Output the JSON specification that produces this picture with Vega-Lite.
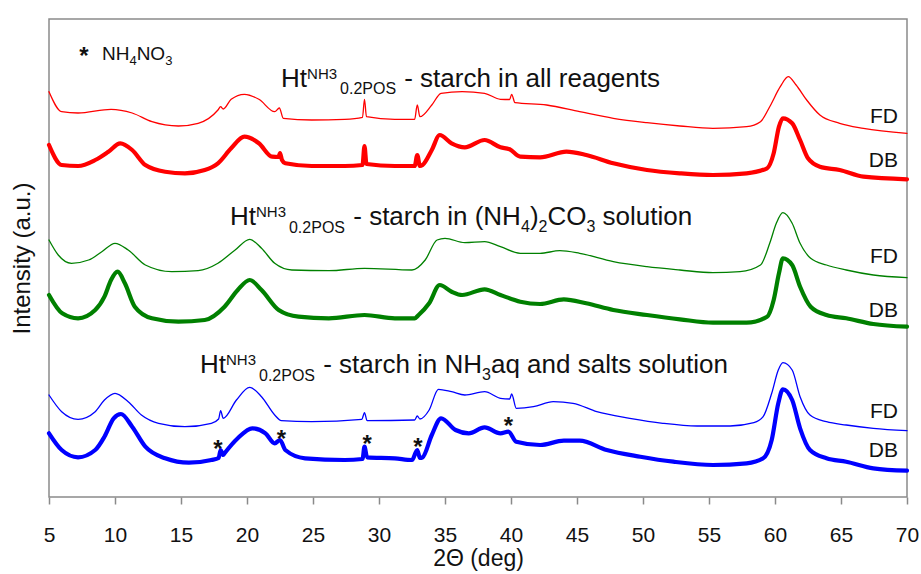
{
  "$schema": "https://vega.github.io/schema/vega-lite/v6.json",
  "width": 858,
  "height": 478,
  "autosize": "none",
  "padding": {"left": 49, "top": 19, "right": 14, "bottom": 77},
  "background": "white",
  "config": {
    "font": "Liberation Sans",
    "view": {"stroke": "#8a8a8a", "strokeWidth": 1.5},
    "axis": {"grid": false, "domain": false, "titleFontWeight": "normal", "titleColor": "#111", "labelColor": "#111", "titleFont": "Liberation Sans", "labelFont": "Liberation Sans"}
  },
  "datasets": {
    "curves": [
      {"s":"all","f":"FD","x":5,"y":405.3},{"s":"all","f":"FD","x":5.96,"y":385.3},{"s":"all","f":"FD","x":7.2,"y":384},{"s":"all","f":"FD","x":9.7,"y":387.7},{"s":"all","f":"FD","x":11.3,"y":384},{"s":"all","f":"FD","x":12.8,"y":375.3},{"s":"all","f":"FD","x":14.8,"y":371},{"s":"all","f":"FD","x":16.3,"y":373.7},{"s":"all","f":"FD","x":17.8,"y":387},{"s":"all","f":"FD","x":18.0,"y":390.3},{"s":"all","f":"FD","x":18.2,"y":388},{"s":"all","f":"FD","x":18.8,"y":397.7},{"s":"all","f":"FD","x":19.8,"y":402.7},{"s":"all","f":"FD","x":20.9,"y":397.7},{"s":"all","f":"FD","x":22.1,"y":385.3},{"s":"all","f":"FD","x":22.45,"y":389},{"s":"all","f":"FD","x":22.75,"y":378.7},{"s":"all","f":"FD","x":24.9,"y":377},{"s":"all","f":"FD","x":27.4,"y":377.7},{"s":"all","f":"FD","x":28.75,"y":379.7},{"s":"all","f":"FD","x":28.9,"y":397.7},{"s":"all","f":"FD","x":29.05,"y":380.3},{"s":"all","f":"FD","x":31.2,"y":377.7},{"s":"all","f":"FD","x":32.7,"y":377.7},{"s":"all","f":"FD","x":32.9,"y":392},{"s":"all","f":"FD","x":33.1,"y":380.3},{"s":"all","f":"FD","x":34.0,"y":392},{"s":"all","f":"FD","x":34.7,"y":403.7},{"s":"all","f":"FD","x":36.3,"y":405.3},{"s":"all","f":"FD","x":38.0,"y":403.7},{"s":"all","f":"FD","x":39.2,"y":397.7},{"s":"all","f":"FD","x":39.9,"y":397.5},{"s":"all","f":"FD","x":40.05,"y":402.7},{"s":"all","f":"FD","x":40.3,"y":394.3},{"s":"all","f":"FD","x":42.7,"y":392},{"s":"all","f":"FD","x":45.2,"y":385.3},{"s":"all","f":"FD","x":47.75,"y":378.7},{"s":"all","f":"FD","x":50.3,"y":374.3},{"s":"all","f":"FD","x":52.8,"y":371},{"s":"all","f":"FD","x":55.3,"y":368.7},{"s":"all","f":"FD","x":57.85,"y":370.3},{"s":"all","f":"FD","x":58.9,"y":375.3},{"s":"all","f":"FD","x":59.6,"y":390.3},{"s":"all","f":"FD","x":60.4,"y":410.3},{"s":"all","f":"FD","x":61.0,"y":420.3},{"s":"all","f":"FD","x":61.6,"y":412},{"s":"all","f":"FD","x":62.4,"y":397},{"s":"all","f":"FD","x":63.4,"y":382},{"s":"all","f":"FD","x":64.9,"y":373.7},{"s":"all","f":"FD","x":66.7,"y":368.7},{"s":"all","f":"FD","x":70,"y":363.7},

      {"s":"all","f":"DB","x":5,"y":352},{"s":"all","f":"DB","x":5.96,"y":332},{"s":"all","f":"DB","x":7.2,"y":331},{"s":"all","f":"DB","x":8.5,"y":337},{"s":"all","f":"DB","x":9.5,"y":345.3},{"s":"all","f":"DB","x":10.4,"y":353.7},{"s":"all","f":"DB","x":11.3,"y":347},{"s":"all","f":"DB","x":12.3,"y":332},{"s":"all","f":"DB","x":13.8,"y":325.3},{"s":"all","f":"DB","x":15.3,"y":323.7},{"s":"all","f":"DB","x":16.8,"y":327},{"s":"all","f":"DB","x":17.8,"y":333.7},{"s":"all","f":"DB","x":18.8,"y":348.7},{"s":"all","f":"DB","x":19.8,"y":360.3},{"s":"all","f":"DB","x":20.9,"y":353.7},{"s":"all","f":"DB","x":21.9,"y":340.3},{"s":"all","f":"DB","x":22.4,"y":340},{"s":"all","f":"DB","x":22.5,"y":344},{"s":"all","f":"DB","x":22.65,"y":337},{"s":"all","f":"DB","x":22.9,"y":333.7},{"s":"all","f":"DB","x":24.9,"y":331},{"s":"all","f":"DB","x":27.4,"y":331},{"s":"all","f":"DB","x":28.75,"y":332},{"s":"all","f":"DB","x":28.9,"y":351},{"s":"all","f":"DB","x":29.05,"y":333},{"s":"all","f":"DB","x":31.2,"y":331},{"s":"all","f":"DB","x":32.7,"y":331},{"s":"all","f":"DB","x":32.9,"y":342},{"s":"all","f":"DB","x":33.1,"y":331},{"s":"all","f":"DB","x":33.3,"y":332},{"s":"all","f":"DB","x":34.0,"y":347},{"s":"all","f":"DB","x":34.6,"y":362},{"s":"all","f":"DB","x":35.5,"y":353.7},{"s":"all","f":"DB","x":36.5,"y":349.7},{"s":"all","f":"DB","x":38.0,"y":357},{"s":"all","f":"DB","x":39.2,"y":349.7},{"s":"all","f":"DB","x":39.9,"y":347.7},{"s":"all","f":"DB","x":40.7,"y":340.3},{"s":"all","f":"DB","x":42.2,"y":339.7},{"s":"all","f":"DB","x":44.2,"y":345.3},{"s":"all","f":"DB","x":45.7,"y":342},{"s":"all","f":"DB","x":47.75,"y":333.7},{"s":"all","f":"DB","x":50.3,"y":327},{"s":"all","f":"DB","x":52.8,"y":323.7},{"s":"all","f":"DB","x":55.3,"y":322},{"s":"all","f":"DB","x":57.85,"y":323.7},{"s":"all","f":"DB","x":59.4,"y":328.7},{"s":"all","f":"DB","x":59.9,"y":343.7},{"s":"all","f":"DB","x":60.3,"y":370.3},{"s":"all","f":"DB","x":60.6,"y":378.7},{"s":"all","f":"DB","x":61.3,"y":373.7},{"s":"all","f":"DB","x":61.9,"y":357},{"s":"all","f":"DB","x":62.5,"y":338.7},{"s":"all","f":"DB","x":63.4,"y":330.3},{"s":"all","f":"DB","x":64.9,"y":327},{"s":"all","f":"DB","x":66.7,"y":320.3},{"s":"all","f":"DB","x":70,"y":317.7},

      {"s":"carb","f":"FD","x":5,"y":257},{"s":"carb","f":"FD","x":5.7,"y":242},{"s":"carb","f":"FD","x":6.7,"y":233.7},{"s":"carb","f":"FD","x":8.0,"y":237},{"s":"carb","f":"FD","x":9.0,"y":245.3},{"s":"carb","f":"FD","x":10.0,"y":253.7},{"s":"carb","f":"FD","x":11.0,"y":247},{"s":"carb","f":"FD","x":12.3,"y":232},{"s":"carb","f":"FD","x":14.3,"y":225.3},{"s":"carb","f":"FD","x":16.3,"y":226.3},{"s":"carb","f":"FD","x":17.8,"y":233.7},{"s":"carb","f":"FD","x":19.1,"y":247},{"s":"carb","f":"FD","x":20.2,"y":257.7},{"s":"carb","f":"FD","x":21.1,"y":248.7},{"s":"carb","f":"FD","x":22.1,"y":233.7},{"s":"carb","f":"FD","x":23.4,"y":227},{"s":"carb","f":"FD","x":26.2,"y":226.3},{"s":"carb","f":"FD","x":28.9,"y":228.7},{"s":"carb","f":"FD","x":32.5,"y":227},{"s":"carb","f":"FD","x":33.5,"y":237},{"s":"carb","f":"FD","x":34.4,"y":257},{"s":"carb","f":"FD","x":35.0,"y":258.7},{"s":"carb","f":"FD","x":36.5,"y":254.3},{"s":"carb","f":"FD","x":38.0,"y":255.3},{"s":"carb","f":"FD","x":39.2,"y":250.3},{"s":"carb","f":"FD","x":40.7,"y":243.7},{"s":"carb","f":"FD","x":42.2,"y":243.7},{"s":"carb","f":"FD","x":43.7,"y":246.3},{"s":"carb","f":"FD","x":45.2,"y":243.7},{"s":"carb","f":"FD","x":47.75,"y":235.3},{"s":"carb","f":"FD","x":50.3,"y":230.3},{"s":"carb","f":"FD","x":52.8,"y":227},{"s":"carb","f":"FD","x":55.3,"y":224.3},{"s":"carb","f":"FD","x":57.35,"y":225.3},{"s":"carb","f":"FD","x":58.9,"y":232},{"s":"carb","f":"FD","x":59.6,"y":253.7},{"s":"carb","f":"FD","x":60.1,"y":273.7},{"s":"carb","f":"FD","x":60.6,"y":284.3},{"s":"carb","f":"FD","x":61.3,"y":273.7},{"s":"carb","f":"FD","x":61.9,"y":253.7},{"s":"carb","f":"FD","x":62.7,"y":238.7},{"s":"carb","f":"FD","x":63.9,"y":232},{"s":"carb","f":"FD","x":65.4,"y":227},{"s":"carb","f":"FD","x":67.45,"y":222},{"s":"carb","f":"FD","x":70,"y":219.3},

      {"s":"carb","f":"DB","x":5,"y":202},{"s":"carb","f":"DB","x":6.0,"y":183.7},{"s":"carb","f":"DB","x":7.2,"y":178.7},{"s":"carb","f":"DB","x":8.5,"y":187},{"s":"carb","f":"DB","x":9.2,"y":200.3},{"s":"carb","f":"DB","x":9.7,"y":217},{"s":"carb","f":"DB","x":10.2,"y":225.3},{"s":"carb","f":"DB","x":10.75,"y":213.7},{"s":"carb","f":"DB","x":11.5,"y":190.3},{"s":"carb","f":"DB","x":12.8,"y":178.7},{"s":"carb","f":"DB","x":14.8,"y":175.3},{"s":"carb","f":"DB","x":16.8,"y":177},{"s":"carb","f":"DB","x":18.3,"y":190.3},{"s":"carb","f":"DB","x":19.3,"y":207},{"s":"carb","f":"DB","x":20.2,"y":217},{"s":"carb","f":"DB","x":21.1,"y":207},{"s":"carb","f":"DB","x":22.4,"y":187},{"s":"carb","f":"DB","x":23.9,"y":180.3},{"s":"carb","f":"DB","x":26.2,"y":178.7},{"s":"carb","f":"DB","x":28.9,"y":182},{"s":"carb","f":"DB","x":31.2,"y":178.7},{"s":"carb","f":"DB","x":32.7,"y":178.7},{"s":"carb","f":"DB","x":33.0,"y":182},{"s":"carb","f":"DB","x":33.8,"y":193.7},{"s":"carb","f":"DB","x":34.6,"y":212},{"s":"carb","f":"DB","x":35.5,"y":205.3},{"s":"carb","f":"DB","x":36.3,"y":202},{"s":"carb","f":"DB","x":38.0,"y":207.7},{"s":"carb","f":"DB","x":39.2,"y":202},{"s":"carb","f":"DB","x":40.7,"y":195.3},{"s":"carb","f":"DB","x":42.2,"y":193},{"s":"carb","f":"DB","x":44.0,"y":197.7},{"s":"carb","f":"DB","x":45.7,"y":193.7},{"s":"carb","f":"DB","x":47.75,"y":187},{"s":"carb","f":"DB","x":50.3,"y":182},{"s":"carb","f":"DB","x":52.8,"y":177.7},{"s":"carb","f":"DB","x":55.3,"y":174.3},{"s":"carb","f":"DB","x":57.85,"y":174.3},{"s":"carb","f":"DB","x":59.4,"y":180.3},{"s":"carb","f":"DB","x":59.9,"y":197},{"s":"carb","f":"DB","x":60.3,"y":223.7},{"s":"carb","f":"DB","x":60.6,"y":238.7},{"s":"carb","f":"DB","x":61.3,"y":232},{"s":"carb","f":"DB","x":61.9,"y":210.3},{"s":"carb","f":"DB","x":62.7,"y":190.3},{"s":"carb","f":"DB","x":63.9,"y":182},{"s":"carb","f":"DB","x":65.4,"y":178.7},{"s":"carb","f":"DB","x":67.45,"y":173},{"s":"carb","f":"DB","x":70,"y":170.3},

      {"s":"nh3","f":"FD","x":5,"y":102},{"s":"nh3","f":"FD","x":5.96,"y":85.3},{"s":"nh3","f":"FD","x":7.2,"y":77.7},{"s":"nh3","f":"FD","x":8.5,"y":85.3},{"s":"nh3","f":"FD","x":9.2,"y":97},{"s":"nh3","f":"FD","x":10.0,"y":103.7},{"s":"nh3","f":"FD","x":11.0,"y":95.3},{"s":"nh3","f":"FD","x":12.0,"y":82},{"s":"nh3","f":"FD","x":13.3,"y":73.7},{"s":"nh3","f":"FD","x":15.3,"y":70.3},{"s":"nh3","f":"FD","x":17.3,"y":73.7},{"s":"nh3","f":"FD","x":17.85,"y":78},{"s":"nh3","f":"FD","x":18.0,"y":86.3},{"s":"nh3","f":"FD","x":18.2,"y":78.7},{"s":"nh3","f":"FD","x":19.2,"y":97},{"s":"nh3","f":"FD","x":20.2,"y":109.7},{"s":"nh3","f":"FD","x":21.1,"y":100.3},{"s":"nh3","f":"FD","x":22.1,"y":82},{"s":"nh3","f":"FD","x":22.6,"y":76.3},{"s":"nh3","f":"FD","x":24.9,"y":75.3},{"s":"nh3","f":"FD","x":28.7,"y":77.7},{"s":"nh3","f":"FD","x":28.9,"y":84.3},{"s":"nh3","f":"FD","x":29.1,"y":76.3},{"s":"nh3","f":"FD","x":32.7,"y":77},{"s":"nh3","f":"FD","x":32.9,"y":81},{"s":"nh3","f":"FD","x":33.1,"y":78},{"s":"nh3","f":"FD","x":33.8,"y":87},{"s":"nh3","f":"FD","x":34.5,"y":107.7},{"s":"nh3","f":"FD","x":35.5,"y":105.3},{"s":"nh3","f":"FD","x":36.5,"y":102},{"s":"nh3","f":"FD","x":38.0,"y":105.3},{"s":"nh3","f":"FD","x":39.2,"y":98.7},{"s":"nh3","f":"FD","x":39.9,"y":98},{"s":"nh3","f":"FD","x":40.05,"y":103},{"s":"nh3","f":"FD","x":40.4,"y":88.7},{"s":"nh3","f":"FD","x":41.7,"y":90.3},{"s":"nh3","f":"FD","x":43.2,"y":95.3},{"s":"nh3","f":"FD","x":44.7,"y":93.7},{"s":"nh3","f":"FD","x":46.5,"y":85.3},{"s":"nh3","f":"FD","x":49.0,"y":78.7},{"s":"nh3","f":"FD","x":51.5,"y":73.7},{"s":"nh3","f":"FD","x":54.1,"y":71},{"s":"nh3","f":"FD","x":56.6,"y":71},{"s":"nh3","f":"FD","x":58.4,"y":74.3},{"s":"nh3","f":"FD","x":59.1,"y":80.3},{"s":"nh3","f":"FD","x":59.75,"y":103.7},{"s":"nh3","f":"FD","x":60.25,"y":127},{"s":"nh3","f":"FD","x":60.6,"y":134.3},{"s":"nh3","f":"FD","x":61.3,"y":127},{"s":"nh3","f":"FD","x":61.9,"y":100.3},{"s":"nh3","f":"FD","x":62.65,"y":82},{"s":"nh3","f":"FD","x":63.9,"y":75.3},{"s":"nh3","f":"FD","x":65.4,"y":72},{"s":"nh3","f":"FD","x":67.45,"y":68.7},{"s":"nh3","f":"FD","x":70,"y":66.3},

      {"s":"nh3","f":"DB","x":5,"y":63.7},{"s":"nh3","f":"DB","x":5.96,"y":47},{"s":"nh3","f":"DB","x":7.2,"y":39.7},{"s":"nh3","f":"DB","x":8.5,"y":47},{"s":"nh3","f":"DB","x":9.2,"y":60.3},{"s":"nh3","f":"DB","x":9.9,"y":78.7},{"s":"nh3","f":"DB","x":10.45,"y":83},{"s":"nh3","f":"DB","x":11.3,"y":70.3},{"s":"nh3","f":"DB","x":12.3,"y":50.3},{"s":"nh3","f":"DB","x":13.8,"y":38.7},{"s":"nh3","f":"DB","x":15.6,"y":34.3},{"s":"nh3","f":"DB","x":17.3,"y":37},{"s":"nh3","f":"DB","x":17.85,"y":39},{"s":"nh3","f":"DB","x":18.0,"y":47},{"s":"nh3","f":"DB","x":18.2,"y":42},{"s":"nh3","f":"DB","x":18.3,"y":43.7},{"s":"nh3","f":"DB","x":19.3,"y":58.7},{"s":"nh3","f":"DB","x":20.4,"y":68.7},{"s":"nh3","f":"DB","x":21.4,"y":63.7},{"s":"nh3","f":"DB","x":22.1,"y":53.7},{"s":"nh3","f":"DB","x":22.5,"y":57},{"s":"nh3","f":"DB","x":22.9,"y":47},{"s":"nh3","f":"DB","x":24.4,"y":38.7},{"s":"nh3","f":"DB","x":27.4,"y":37},{"s":"nh3","f":"DB","x":28.75,"y":38},{"s":"nh3","f":"DB","x":28.9,"y":50.3},{"s":"nh3","f":"DB","x":29.1,"y":39.7},{"s":"nh3","f":"DB","x":31.2,"y":38.7},{"s":"nh3","f":"DB","x":32.5,"y":37},{"s":"nh3","f":"DB","x":32.9,"y":47},{"s":"nh3","f":"DB","x":33.1,"y":39},{"s":"nh3","f":"DB","x":33.3,"y":39.7},{"s":"nh3","f":"DB","x":34.0,"y":62},{"s":"nh3","f":"DB","x":34.7,"y":78.7},{"s":"nh3","f":"DB","x":35.8,"y":67},{"s":"nh3","f":"DB","x":36.8,"y":63.7},{"s":"nh3","f":"DB","x":38.0,"y":69.7},{"s":"nh3","f":"DB","x":39.2,"y":63.7},{"s":"nh3","f":"DB","x":39.8,"y":65.3},{"s":"nh3","f":"DB","x":40.4,"y":55.3},{"s":"nh3","f":"DB","x":42.2,"y":52},{"s":"nh3","f":"DB","x":44.0,"y":56.3},{"s":"nh3","f":"DB","x":45.2,"y":56.3},{"s":"nh3","f":"DB","x":47.25,"y":47},{"s":"nh3","f":"DB","x":49.8,"y":40.3},{"s":"nh3","f":"DB","x":52.3,"y":35.3},{"s":"nh3","f":"DB","x":55.3,"y":32},{"s":"nh3","f":"DB","x":57.85,"y":33.7},{"s":"nh3","f":"DB","x":59.1,"y":38.7},{"s":"nh3","f":"DB","x":59.75,"y":57},{"s":"nh3","f":"DB","x":60.25,"y":93.7},{"s":"nh3","f":"DB","x":60.6,"y":107.7},{"s":"nh3","f":"DB","x":61.3,"y":97},{"s":"nh3","f":"DB","x":61.9,"y":68.7},{"s":"nh3","f":"DB","x":62.65,"y":47},{"s":"nh3","f":"DB","x":63.9,"y":38.7},{"s":"nh3","f":"DB","x":65.4,"y":35.3},{"s":"nh3","f":"DB","x":67.45,"y":28.7},{"s":"nh3","f":"DB","x":70,"y":26.3}
    ],
    "notes": [
      {"k":"main","x":22.58,"y":410,"t":"Ht"},
      {"k":"main","x":31.91,"y":410,"t":"- starch in all reagents"},
      {"k":"sup","x":24.55,"y":418,"t":"NH3"},
      {"k":"sub","x":27.05,"y":403,"t":"0.2POS"},

      {"k":"main","x":18.71,"y":272,"t":"Ht"},
      {"k":"sup","x":20.68,"y":280,"t":"NH3"},
      {"k":"sub","x":23.18,"y":264,"t":"0.2POS"},
      {"k":"main","x":28.05,"y":272,"t":"- starch in (NH"},
      {"k":"sub","x":40.76,"y":265,"t":"4"},
      {"k":"main","x":41.44,"y":272,"t":")"},
      {"k":"sub","x":42.09,"y":265,"t":"2"},
      {"k":"main","x":42.77,"y":272,"t":"CO"},
      {"k":"sub","x":45.72,"y":265,"t":"3"},
      {"k":"main","x":46.94,"y":272,"t":"solution"},

      {"k":"main","x":16.44,"y":124,"t":"Ht"},
      {"k":"sup","x":18.41,"y":132,"t":"NH3"},
      {"k":"sub","x":20.91,"y":116,"t":"0.2POS"},
      {"k":"main","x":25.77,"y":124,"t":"- starch in NH"},
      {"k":"sub","x":37.8,"y":117,"t":"3"},
      {"k":"main","x":38.48,"y":124,"t":"aq and salts solution"},

      {"k":"leg","x":9.02,"y":437,"t":"NH"},
      {"k":"legsub","x":11.09,"y":432,"t":"4"},
      {"k":"leg","x":11.64,"y":437,"t":"NO"},
      {"k":"legsub","x":13.8,"y":432,"t":"3"},

      {"k":"star","x":7.65,"y":433,"t":"*"},
      {"k":"star","x":17.8,"y":40.3,"t":"*"},
      {"k":"star","x":22.6,"y":50.3,"t":"*"},
      {"k":"star","x":29.1,"y":45.3,"t":"*"},
      {"k":"star","x":32.95,"y":42.3,"t":"*"},
      {"k":"star","x":39.8,"y":63.3,"t":"*"},

      {"k":"tag","x":69.32,"y":374.3,"t":"FD"},
      {"k":"tag","x":69.32,"y":330,"t":"DB"},
      {"k":"tag","x":69.32,"y":234,"t":"FD"},
      {"k":"tag","x":69.32,"y":180,"t":"DB"},
      {"k":"tag","x":69.32,"y":79,"t":"FD"},
      {"k":"tag","x":69.32,"y":40,"t":"DB"}
    ]
  },
  "encoding": {
    "x": {
      "field": "x", "type": "quantitative",
      "scale": {"domain": [5, 70], "nice": false, "zero": false},
      "axis": {"values": [5,10,15,20,25,30,35,40,45,50,55,60,65,70], "title": "2Θ (deg)", "tickSize": 7, "tickColor": "#8a8a8a", "tickWidth": 1.5, "labelFontSize": 21, "labelPadding": 20, "labelFlush": false, "labelOverlap": false, "titleFontSize": 23, "titlePadding": 2}
    },
    "y": {
      "field": "y", "type": "quantitative",
      "scale": {"domain": [0, 478], "nice": false, "zero": false},
      "axis": {"title": "Intensity (a.u.)", "labels": false, "ticks": false, "titleFontSize": 24, "titlePadding": 15}
    }
  },
  "layer": [
    {
      "data": {"name": "curves"},
      "mark": {"type": "line", "interpolate": "monotone", "strokeJoin": "round", "strokeCap": "round"},
      "encoding": {
        "detail": [{"field": "s"}, {"field": "f"}],
        "color": {"field": "s", "type": "nominal", "scale": {"domain": ["all", "carb", "nh3"], "range": ["#ff0000", "#008000", "#0000ff"]}, "legend": null},
        "strokeWidth": {"field": "f", "type": "nominal", "scale": {"domain": ["FD", "DB"], "range": [1.3, 4.2]}, "legend": null}
      }
    },
    {
      "data": {"name": "notes"},
      "transform": [{"filter": "datum.k === 'main'"}],
      "mark": {"type": "text", "align": "left", "baseline": "alphabetic", "fontSize": 26, "color": "#111"},
      "encoding": {"text": {"field": "t"}}
    },
    {
      "data": {"name": "notes"},
      "transform": [{"filter": "datum.k === 'sup'"}],
      "mark": {"type": "text", "align": "left", "baseline": "alphabetic", "fontSize": 15, "color": "#111"},
      "encoding": {"text": {"field": "t"}}
    },
    {
      "data": {"name": "notes"},
      "transform": [{"filter": "datum.k === 'sub'"}],
      "mark": {"type": "text", "align": "left", "baseline": "alphabetic", "fontSize": 16, "color": "#111"},
      "encoding": {"text": {"field": "t"}}
    },
    {
      "data": {"name": "notes"},
      "transform": [{"filter": "datum.k === 'leg'"}],
      "mark": {"type": "text", "align": "left", "baseline": "alphabetic", "fontSize": 19, "color": "#111"},
      "encoding": {"text": {"field": "t"}}
    },
    {
      "data": {"name": "notes"},
      "transform": [{"filter": "datum.k === 'legsub'"}],
      "mark": {"type": "text", "align": "left", "baseline": "alphabetic", "fontSize": 13, "color": "#111"},
      "encoding": {"text": {"field": "t"}}
    },
    {
      "data": {"name": "notes"},
      "transform": [{"filter": "datum.k === 'star'"}],
      "mark": {"type": "text", "align": "center", "baseline": "alphabetic", "fontSize": 24, "fontWeight": "bold", "color": "#111"},
      "encoding": {"text": {"field": "t"}}
    },
    {
      "data": {"name": "notes"},
      "transform": [{"filter": "datum.k === 'tag'"}],
      "mark": {"type": "text", "align": "right", "baseline": "alphabetic", "fontSize": 21, "color": "#111"},
      "encoding": {"text": {"field": "t"}}
    }
  ]
}
